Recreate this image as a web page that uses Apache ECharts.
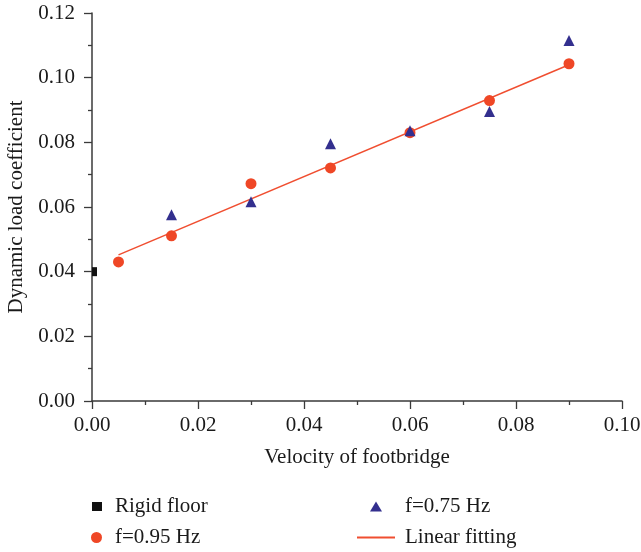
<!DOCTYPE html>
<html><head><meta charset="utf-8">
<script src="https://cdn.jsdelivr.net/npm/echarts@6/dist/echarts.min.js"></script>
<style>html,body{margin:0;padding:0;background:#fff}#c{width:641px;height:552px}</style>
</head><body><div id="c"></div>
<script>
var rigidX = [0.0];
var rigidY = [0.040];
var f95X = [0.005, 0.015, 0.030, 0.045, 0.060, 0.075, 0.090];
var f95Y = [0.0430, 0.0511, 0.0672, 0.0721, 0.0830, 0.0929, 0.1043];
var f75X = [0.015, 0.030, 0.045, 0.060, 0.075, 0.090];
var f75Y = [0.0576, 0.0616, 0.0796, 0.0836, 0.0895, 0.1115];
var fitX = [0.005, 0.090];
var fitY = [0.0452, 0.1040];
var xTicks = ['0.00','0.02','0.04','0.06','0.08','0.10'];
var yTicks = ['0.00','0.02','0.04','0.06','0.08','0.10','0.12'];

function zip(a, b) { return a.map(function (v, i) { return [v, b[i]]; }); }

var FONT = '"Liberation Serif", "DejaVu Serif", serif';
var FS = 21;
var axisCol = '#3a3a3a';
var cRed = '#ef4726', cBlue = '#332f8e', cLine = '#f04e30';
var txt = '#1a1a1a';

function lg(name, icon, left, top, w, h, pad) {
  return {
    orient: 'vertical', left: left, top: top, itemWidth: w, itemHeight: h,
    padding: 0,
    textStyle: { fontFamily: FONT, fontSize: FS, color: txt, padding: [0, 0, 0, pad] },
    data: [{ name: name, icon: icon }]
  };
}

var chart = echarts.init(document.getElementById('c'));
chart.setOption({
  animation: false,
  backgroundColor: '#fff',
  textStyle: { fontFamily: FONT },
  grid: { left: 92, right: 19, top: 13, bottom: 151, containLabel: false, outerBoundsMode: 'none' },
  xAxis: {
    type: 'value', min: 0, max: 0.10, interval: 0.02,
    name: 'Velocity of footbridge', nameLocation: 'middle', nameGap: 46,
    nameTextStyle: { fontFamily: FONT, fontSize: FS, color: txt },
    axisLine: { show: true, onZero: false, lineStyle: { color: axisCol, width: 1.5 } },
    axisTick: { show: true, inside: false, length: 8, lineStyle: { color: axisCol, width: 1.3 } },
    minorTick: { show: true, splitNumber: 2, length: 4, lineStyle: { color: axisCol, width: 1.3 } },
    splitLine: { show: false },
    axisLabel: { margin: 14, fontFamily: FONT, fontSize: FS, color: txt,
      formatter: function (v) { return xTicks[Math.round(v / 0.02)]; } }
  },
  yAxis: {
    type: 'value', min: 0, max: 0.12, interval: 0.02,
    name: 'Dynamic load coefficient', nameLocation: 'middle', nameGap: 63, nameRotate: 90,
    nameTextStyle: { fontFamily: FONT, fontSize: FS, color: txt },
    axisLine: { show: true, onZero: false, lineStyle: { color: axisCol, width: 1.5 } },
    axisTick: { show: true, inside: false, length: 8, lineStyle: { color: axisCol, width: 1.3 } },
    minorTick: { show: true, splitNumber: 2, length: 4, lineStyle: { color: axisCol, width: 1.3 } },
    splitLine: { show: false },
    axisLabel: { margin: 17, fontFamily: FONT, fontSize: FS, color: txt,
      formatter: function (v) { return yTicks[Math.round(v / 0.02)]; } }
  },
  legend: [
    lg('Rigid floor', 'rect', 92, 496, 10, 9, 8),
    lg('f=0.95 Hz', 'circle', 91, 527, 11, 11, 8),
    lg('f=0.75 Hz', 'triangle', 370, 496, 12, 10, 18),
    lg('Linear fitting', 'rect', 357, 527, 38, 2, 5)
  ],
  series: [
    {
      name: 'Linear fitting', type: 'line', data: zip(fitX, fitY), symbol: 'none',
      lineStyle: { color: cLine, width: 1.5 }, itemStyle: { color: cLine }, z: 2
    },
    {
      name: 'Rigid floor', type: 'scatter', data: zip(rigidX, rigidY), symbol: 'rect',
      symbolSize: [5, 9], symbolOffset: [2.5, 0], itemStyle: { color: '#111', opacity: 1 }, z: 3
    },
    {
      name: 'f=0.95 Hz', type: 'scatter', data: zip(f95X, f95Y), symbol: 'circle',
      symbolSize: 11, itemStyle: { color: cRed, opacity: 1 }, z: 3
    },
    {
      name: 'f=0.75 Hz', type: 'scatter', data: zip(f75X, f75Y), symbol: 'triangle',
      symbolSize: 11, itemStyle: { color: cBlue, opacity: 1 }, z: 4
    }
  ]
});
</script></body></html>
